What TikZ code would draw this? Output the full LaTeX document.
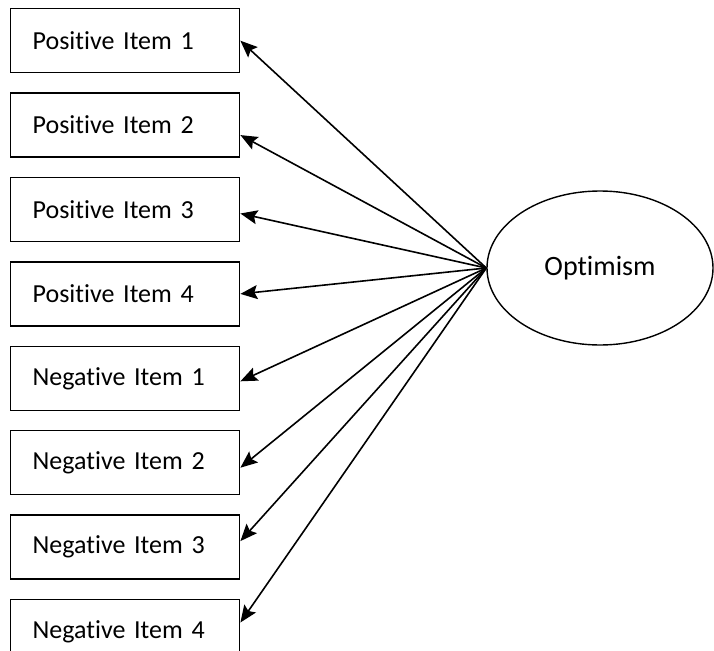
\documentclass[tikz,border=0pt]{standalone}
\usepackage{fontspec}
\setmainfont{Carlito}[Ligatures=NoCommon]
\usetikzlibrary{positioning, arrows.meta, calc, shapes.geometric}

\begin{document}
\begin{tikzpicture}[
  x=1pt, y=-1pt,
  >={Stealth[length=17pt, width=14pt, inset=3pt]},
  every node/.style={font=\fontsize{26}{30}\selectfont},
  item/.style   = {draw, line width=1.4pt, anchor=north west, minimum height=64pt, text width=185pt, inner xsep=22pt, align=left},
  latent/.style = {ellipse, draw, line width=1.4pt, minimum width=226pt, minimum height=154pt, font=\fontsize{28}{32}\selectfont},
  load/.style   = {->, line width=1.6pt},
]
  \useasboundingbox (0,0) rectangle (714,650);
  \node[item] (p1) at (10,8) {Positive Item 1};
  \node[item, below=19pt of p1] (p2) {Positive Item 2};
  \node[item, below=19pt of p2] (p3) {Positive Item 3};
  \node[item, below=19pt of p3] (p4) {Positive Item 4};
  \node[item, below=19pt of p4] (n1) {Negative Item 1};
  \node[item, below=19pt of n1] (n2) {Negative Item 2};
  \node[item, below=19pt of n2] (n3) {Negative Item 3};
  \node[item, below=19pt of n3] (n4) {Negative Item 4};
  \node[latent] (opt) at (600,268) {Optimism};
  \foreach \b/\dy in {p1/0,p2/-10,p3/-4,p4/0,n1/-3,n2/-5,n3/6,n4/9}\draw[load](opt.west)--($(\b.east)+(0,\dy pt)$);
\end{tikzpicture}
\end{document}
